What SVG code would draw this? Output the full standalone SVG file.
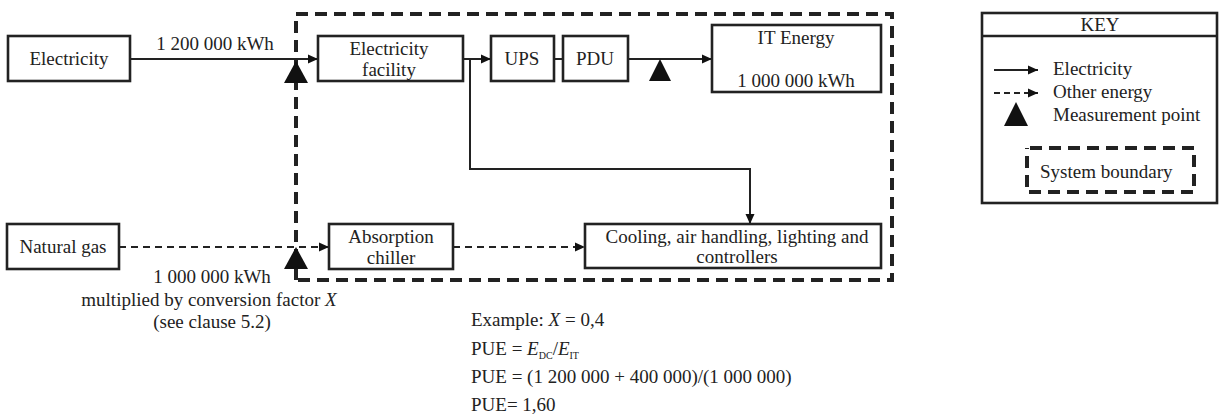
<svg xmlns="http://www.w3.org/2000/svg" width="1219" height="417" viewBox="0 0 1219 417">
<style>
text{font-family:'Liberation Serif','DejaVu Serif',serif;font-size:19px;fill:#222}
.box{fill:#fff;stroke:#222;stroke-width:2.6}
.ln{fill:none;stroke:#222;stroke-width:2}
.dl{fill:none;stroke:#222;stroke-width:2;stroke-dasharray:7 5}
.bd{fill:none;stroke:#222;stroke-width:4;stroke-dasharray:12 7}
.tri{fill:#111}
.c{text-anchor:middle}
</style>
<defs>
<marker id="ah" viewBox="0 0 10 10" refX="10" refY="5" markerWidth="10" markerHeight="10" markerUnits="userSpaceOnUse" orient="auto">
<path d="M0,0.5 L10,5 L0,9.5 Z" fill="#111"/>
</marker>
</defs>
<g id="boundary">
<path class="bd" d="M296,280 V14 H892 V280 Z"/>
</g>
<g id="connectors">
<line class="ln" x1="130" y1="59" x2="318" y2="59" marker-end="url(#ah)"/>
<line class="ln" x1="463" y1="59" x2="491" y2="59" marker-end="url(#ah)"/>
<line class="ln" x1="554" y1="59" x2="563" y2="59"/>
<line class="ln" x1="628" y1="59" x2="712" y2="59" marker-end="url(#ah)"/>
<path class="ln" d="M470,59 V169 H750 V224" marker-end="url(#ah)"/>
<line class="dl" x1="119" y1="247" x2="329" y2="247" marker-end="url(#ah)"/>
<line class="dl" x1="453" y1="247" x2="585" y2="247" marker-end="url(#ah)"/>
</g>
<g id="measure-points">
<polygon class="tri" points="296,61 308,83 284,83"/>
<polygon class="tri" points="660,59 671,81 649,81"/>
<polygon class="tri" points="296,247 308,269 284,269"/>
</g>
<g id="electricity">
<rect class="box" x="8" y="36" width="122" height="45"/>
<text class="c" x="69" y="65">Electricity</text>
</g>
<text class="c" x="215" y="50">1 200 000 kWh</text>
<g id="facility">
<rect class="box" x="318" y="36" width="145" height="45"/>
<text class="c" x="389" y="55">Electricity</text>
<text class="c" x="389" y="76">facility</text>
</g>
<g id="ups">
<rect class="box" x="491" y="36" width="63" height="45"/>
<text class="c" x="522" y="65">UPS</text>
</g>
<g id="pdu">
<rect class="box" x="563" y="36" width="65" height="45"/>
<text class="c" x="595" y="65">PDU</text>
</g>
<g id="it">
<rect class="box" x="712" y="25" width="169" height="67"/>
<text class="c" x="796" y="44">IT Energy</text>
<text class="c" x="796" y="87">1 000 000 kWh</text>
</g>
<g id="gas">
<rect class="box" x="7" y="224" width="112" height="45"/>
<text class="c" x="63" y="253">Natural gas</text>
</g>
<g id="chiller">
<rect class="box" x="329" y="224" width="124" height="45"/>
<text class="c" x="391" y="243">Absorption</text>
<text class="c" x="391" y="264">chiller</text>
</g>
<g id="cooling">
<rect class="box" x="585" y="224" width="296" height="44"/>
<text class="c" x="737" y="243">Cooling, air handling, lighting and</text>
<text class="c" x="737" y="263">controllers</text>
</g>
<g id="gas-note">
<text class="c" x="212" y="283">1 000 000 kWh</text>
<text class="c" x="209" y="306">multiplied by conversion factor <tspan font-style="italic">X</tspan></text>
<text class="c" x="212" y="328">(see clause 5.2)</text>
</g>
<g id="example">
<text x="471" y="326">Example:  <tspan font-style="italic">X</tspan> = 0,4</text>
<text x="471" y="355">PUE = <tspan font-style="italic">E</tspan><tspan font-size="10" dy="4">DC</tspan><tspan dy="-4">/</tspan><tspan font-style="italic">E</tspan><tspan font-size="10" dy="4">IT</tspan></text>
<text x="471" y="383">PUE = (1 200 000 + 400 000)/(1 000 000)</text>
<text x="471" y="411">PUE= 1,60</text>
</g>
<g id="key">
<rect class="box" x="982" y="13" width="235" height="190"/>
<line class="ln" x1="982" y1="36" x2="1217" y2="36" style="stroke-width:2.6"/>
<text class="c" x="1100" y="31">KEY</text>
<line class="ln" x1="994" y1="70" x2="1038" y2="70" marker-end="url(#ah)"/>
<text x="1053" y="75">Electricity</text>
<line class="dl" x1="994" y1="93" x2="1038" y2="93" marker-end="url(#ah)" style="stroke-dasharray:6 4"/>
<text x="1053" y="98">Other energy</text>
<polygon class="tri" points="1016,102 1028,126 1004,126"/>
<text x="1053" y="121">Measurement point</text>
<path class="bd" d="M1027,148 H1194 V192 H1027 Z" style="stroke-dasharray:12 7;stroke-dashoffset:-3"/>
<text x="1040" y="178">System boundary</text>
</g>
</svg>
